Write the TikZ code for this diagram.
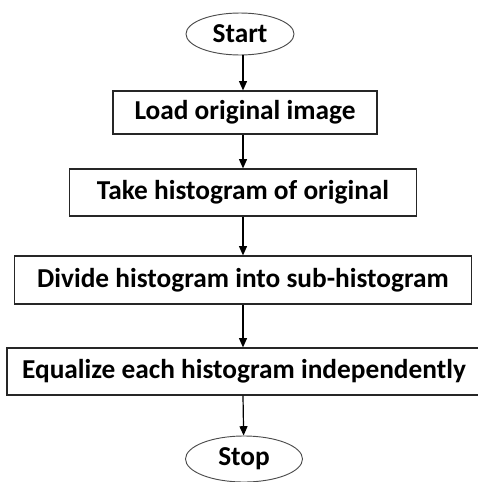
\documentclass[tikz,border=0pt]{standalone}
\usepackage{fontspec}
\setmainfont{Carlito}
\usetikzlibrary{shapes.geometric,arrows.meta}

\tikzset{
  stepbox/.style={draw=black!85, line width=0.9pt, rectangle, inner sep=0pt,
    font=\fontsize{20.5}{24}\selectfont\bfseries},
  termnode/.style={draw=black!70, line width=0.7pt, ellipse, inner sep=0pt,
    font=\fontsize{20.5}{24}\selectfont\bfseries},
  flowarrow/.style={draw=black, line width=0.9pt, -{Triangle[length=7pt,width=6pt]}}
}

\begin{document}
\begin{tikzpicture}[x=0.75pt,y=0.75pt,yscale=-1,xscale=1]
	\clip (0,0) rectangle (478,482);
	
	% Terminals
	\node [termnode, minimum width=108*0.75pt, minimum height=42*0.75pt] (start) at (240,34) {Start};
	\node [termnode, minimum width=117*0.75pt, minimum height=46*0.75pt] (stop) at (244,459) {Stop};
	
	% Process boxes
	\node [stepbox, minimum width=264*0.75pt, minimum height=43*0.75pt] (load) at (245,112.5) {Load original image};
	\node [stepbox, minimum width=347*0.75pt, minimum height=47*0.75pt] (take) at (243,192.5) {Take histogram of original};
	\node [stepbox, minimum width=457*0.75pt, minimum height=48*0.75pt] (divide) at (243,280) {Divide histogram into sub-histogram};
	\node [stepbox, minimum width=474*0.75pt, minimum height=47*0.75pt] (equalize) at (244,371.5) {Equalize each histogram independently};
	
	% Arrows
	\draw [flowarrow] (start.south -| 243,0) -- (243,0 |- load.north);
	\draw [flowarrow] (load.south -| 243,0) -- (take.north);
	\draw [flowarrow] (take) -- (divide);
	\draw [flowarrow] (divide) -- (equalize.north -| 243,0);
	\draw [flowarrow] (equalize.south -| 243,0) -- (stop);
	
\end{tikzpicture}
\end{document}
